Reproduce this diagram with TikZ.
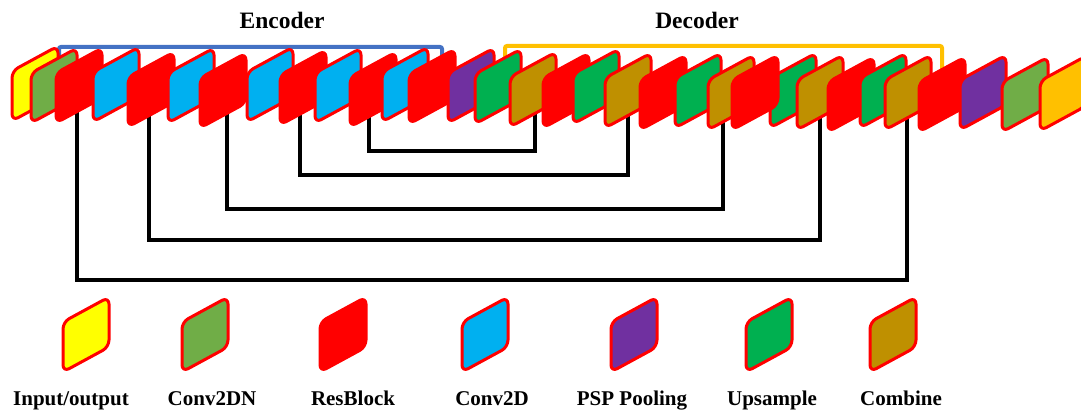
\documentclass[tikz,border=0pt]{standalone}
\usepackage{fontspec}
\setmainfont{Liberation Serif}
\definecolor{cIO}{HTML}{FFFF00}
\definecolor{cOut}{HTML}{FFC000}
\definecolor{cDN}{HTML}{70AD47}
\definecolor{cRes}{HTML}{FF0000}
\definecolor{cConv}{HTML}{00B0F0}
\definecolor{cPSP}{HTML}{7030A0}
\definecolor{cUp}{HTML}{00B050}
\definecolor{cComb}{HTML}{BF9000}
\definecolor{cEnc}{HTML}{4472C4}
\definecolor{cDec}{HTML}{FFC000}
\tikzset{
  blockshape/.style={draw=cRes, line width=3pt, rounded corners=7pt, line join=round},
  skipline/.style={draw=black, line width=4pt, line join=miter},
  bracketline/.style={line width=4pt, rounded corners=2pt},
  lbl/.style={anchor=base, font=\bfseries\fontsize{21}{21}\selectfont, inner sep=0pt},
  title/.style={anchor=base, font=\bfseries\fontsize{23.5}{24}\selectfont, inner sep=0pt},
}
% layer block: name, left x, bottom-left y, fill colour
\newcommand\layerblk[4]{%
  \coordinate (#1) at (#2+22.5,#3-37);
  \filldraw[blockshape, fill=#4] (#2,#3) -- ++(0,-50) -- ++(46,-25) -- ++(0,50) -- cycle;
}
\begin{document}
\begin{tikzpicture}[x=1pt,y=-1pt]
\useasboundingbox (0,0) rectangle (1081,411);

% titles
\node[title] (enc) at (282,29) {Encoder};
\node[title] (dec) at (697,29) {Decoder};

% encoder / decoder brackets (behind the blocks)
\draw[bracketline, cEnc] (59,85) -- (59,47) -- (442,47) -- (442,85);
\draw[bracketline, cDec] (505,85) -- (505,46) -- (942,46) -- (942,85);

% skip-connection anchors
\coordinate (k3)  at (77,95);
\coordinate (k5)  at (149,95);
\coordinate (k7)  at (227,95);
\coordinate (k9)  at (300,95);
\coordinate (k11) at (369,95);
\coordinate (k16) at (535,95);
\coordinate (k19) at (628,95);
\coordinate (k22) at (723,95);
\coordinate (k25) at (820,95);
\coordinate (k28) at (907,95);

% skip connections
\draw[skipline] (k11) -- (k11 |- 0,151) -- (k16 |- 0,151) -- (k16);
\draw[skipline] (k9)  -- (k9 |- 0,175)  -- (k19 |- 0,175) -- (k19);
\draw[skipline] (k7)  -- (k7 |- 0,209)  -- (k22 |- 0,209) -- (k22);
\draw[skipline] (k5)  -- (k5 |- 0,240)  -- (k25 |- 0,240) -- (k25);
\draw[skipline] (k3)  -- (k3 |- 0,280)  -- (k28 |- 0,280) -- (k28);

% network blocks
\layerblk{b1}{12}{121}{cIO}
\layerblk{b2}{31}{123}{cDN}
\layerblk{b3}{56}{123}{cRes}
\layerblk{b4}{93}{122}{cConv}
\layerblk{b5}{128}{127}{cRes}
\layerblk{b6}{168}{123}{cConv}
\layerblk{b7}{200}{128}{cRes}
\layerblk{b8}{247}{122}{cConv}
\layerblk{b9}{280}{125}{cRes}
\layerblk{b10}{315}{123}{cConv}
\layerblk{b11}{350}{127}{cRes}
\layerblk{b12}{382}{122}{cConv}
\layerblk{b13}{409}{124}{cRes}
\layerblk{b14}{448}{123}{cPSP}
\layerblk{b15}{475}{124}{cUp}
\layerblk{b16}{510}{127}{cComb}
\layerblk{b17}{543}{128}{cRes}
\layerblk{b18}{573}{124}{cUp}
\layerblk{b19}{605}{128}{cComb}
\layerblk{b20}{640}{130}{cRes}
\layerblk{b21}{675}{128}{cUp}
\layerblk{b22}{708}{130}{cComb}
\layerblk{b24}{770}{128}{cUp}
\layerblk{b23}{732}{130}{cRes}
\layerblk{b25}{797}{130}{cComb}
\layerblk{b26}{828}{132}{cRes}
\layerblk{b27}{860}{128}{cUp}
\layerblk{b28}{885}{130}{cComb}
\layerblk{b29}{919}{132}{cRes}
\layerblk{b30}{960}{130}{cPSP}
\layerblk{b31}{1002}{132}{cDN}
\layerblk{b32}{1040}{131}{cOut}

% legend
\layerblk{g1}{63}{372}{cIO}
\layerblk{g2}{182}{372}{cDN}
\layerblk{g3}{320}{372}{cRes}
\layerblk{g4}{462}{372}{cConv}
\layerblk{g5}{611}{372}{cPSP}
\layerblk{g6}{746}{372}{cUp}
\layerblk{g7}{870}{372}{cComb}

\node[lbl] (l1) at (71,405)  {Input/output};
\node[lbl] (l2) at (212,405) {Conv2DN};
\node[lbl] (l3) at (353,405) {ResBlock};
\node[lbl] (l4) at (492,405) {Conv2D};
\node[lbl] (l5) at (632,405) {PSP Pooling};
\node[lbl] (l6) at (772,405) {Upsample};
\node[lbl] (l7) at (901,405) {Combine};
\end{tikzpicture}
\end{document}
